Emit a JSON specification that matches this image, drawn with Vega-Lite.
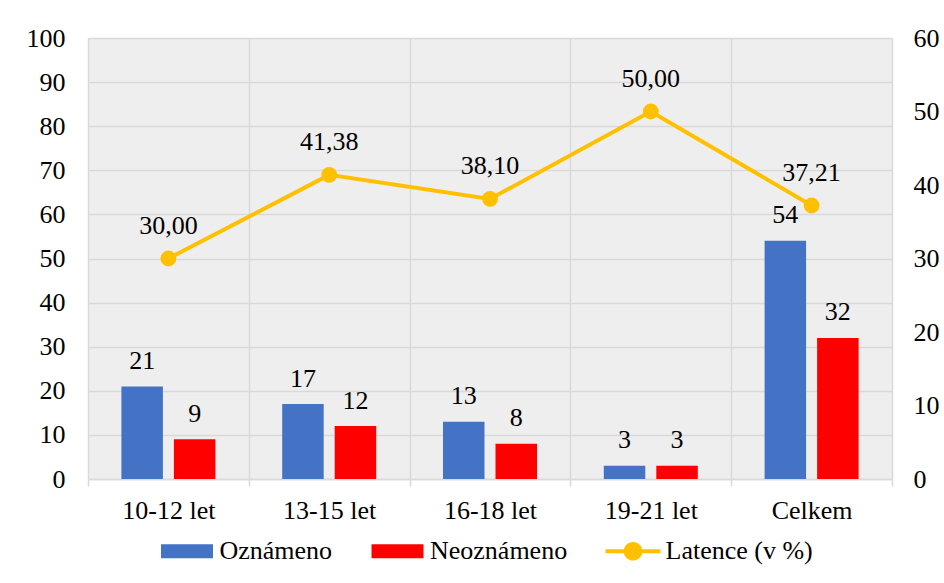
{
  "$schema": "https://vega.github.io/schema/vega-lite/v6.json",
  "width": 804,
  "height": 441,
  "autosize": {"type": "none"},
  "padding": {"left": 88, "top": 38, "right": 52, "bottom": 104},
  "background": "white",
  "datasets": {
    "bars": [
      {"cat": "10-12 let", "series": "Oznámeno", "value": 21},
      {"cat": "10-12 let", "series": "Neoznámeno", "value": 9},
      {"cat": "13-15 let", "series": "Oznámeno", "value": 17},
      {"cat": "13-15 let", "series": "Neoznámeno", "value": 12},
      {"cat": "16-18 let", "series": "Oznámeno", "value": 13},
      {"cat": "16-18 let", "series": "Neoznámeno", "value": 8},
      {"cat": "19-21 let", "series": "Oznámeno", "value": 3},
      {"cat": "19-21 let", "series": "Neoznámeno", "value": 3},
      {"cat": "Celkem", "series": "Oznámeno", "value": 54},
      {"cat": "Celkem", "series": "Neoznámeno", "value": 32}
    ],
    "lat": [
      {"cat": "10-12 let", "latence": 30.00},
      {"cat": "13-15 let", "latence": 41.38},
      {"cat": "16-18 let", "latence": 38.10},
      {"cat": "19-21 let", "latence": 50.00},
      {"cat": "Celkem", "latence": 37.21}
    ]
  },
  "encoding": {
    "x": {
      "field": "cat",
      "type": "nominal",
      "sort": ["10-12 let", "13-15 let", "16-18 let", "19-21 let", "Celkem"],
      "scale": {"paddingInner": 0, "paddingOuter": 0},
      "axis": {
        "title": null,
        "labelAngle": 0,
        "tickBand": "extent",
        "grid": true,
        "gridColor": "#d9d9d9",
        "gridWidth": 1.5,
        "domainColor": "#d9d9d9",
        "domainWidth": 1.5,
        "tickColor": "#d9d9d9",
        "tickWidth": 1.5,
        "tickSize": 7,
        "labelPadding": 11.5
      }
    }
  },
  "layer": [
    {
      "data": {"name": "bars"},
      "encoding": {
        "xOffset": {
          "field": "series",
          "type": "nominal",
          "sort": ["Oznámeno", "Neoznámeno"],
          "scale": {"paddingInner": 0.21, "paddingOuter": 0.636}
        },
        "y": {
          "field": "value",
          "type": "quantitative",
          "scale": {"domain": [0, 100], "nice": false},
          "axis": {
            "orient": "left",
            "title": null,
            "values": [0, 10, 20, 30, 40, 50, 60, 70, 80, 90, 100],
            "grid": true,
            "gridColor": "#d9d9d9",
            "gridWidth": 1.5,
            "domain": false,
            "ticks": false,
            "labelPadding": 23
          }
        }
      },
      "layer": [
        {
          "mark": {"type": "bar"},
          "encoding": {
            "color": {
              "field": "series",
              "type": "nominal",
              "scale": {
                "domain": ["Oznámeno", "Neoznámeno", "Latence (v %)"],
                "range": ["#4472C4", "#FF0000", "#FFC000"]
              },
              "legend": {
                "title": null,
                "orient": "none",
                "direction": "horizontal",
                "legendX": 71.5,
                "legendY": 485.5,
                "padding": 0,
                "symbolSize": 3025,
                "symbolStrokeWidth": 0,
                "labelOffset": 5,
                "columnPadding": 37.5,
                "labelLimit": 300,
                "encode": {
                  "symbols": {
                    "update": {
                      "shape": {"signal": "datum.value === 'Latence (v %)' ? 'M-1,-0.073L-0.33,-0.073L-0.33,0.073L-1,0.073ZM0.33,-0.073L1,-0.073L1,0.073L0.33,0.073ZM0.34,0A0.34,0.34,0,1,1,-0.34,0A0.34,0.34,0,1,1,0.34,0Z' : 'M-0.945,-0.255L0.945,-0.255L0.945,0.255L-0.945,0.255Z'"},
                      "fill": {"signal": "datum.value === 'Oznámeno' ? '#4472C4' : datum.value === 'Neoznámeno' ? '#FF0000' : '#FFC000'"},
                      "size": {"value": 3025},
                      "strokeWidth": {"value": 0},
                      "opacity": {"value": 1},
                      "fillOpacity": {"value": 1}
                    }
                  }
                }
              }
            }
          }
        },
        {
          "mark": {"type": "text", "baseline": "alphabetic", "dy": -17.5, "color": "#000000"},
          "encoding": {
            "text": {"field": "value", "type": "quantitative"}
          }
        }
      ]
    },
    {
      "data": {"name": "lat"},
      "encoding": {
        "y": {
          "field": "latence",
          "type": "quantitative",
          "scale": {"domain": [0, 60], "nice": false},
          "axis": {
            "orient": "right",
            "title": null,
            "values": [0, 10, 20, 30, 40, 50, 60],
            "grid": false,
            "domain": false,
            "ticks": false,
            "labelPadding": 21
          }
        }
      },
      "layer": [
        {
          "mark": {"type": "line", "strokeWidth": 4},
          "encoding": {"color": {"datum": "Latence (v %)"}}
        },
        {
          "mark": {"type": "circle", "size": 250, "opacity": 1},
          "encoding": {"color": {"datum": "Latence (v %)"}}
        },
        {
          "mark": {"type": "text", "baseline": "alphabetic", "dy": -24.5, "color": "#000000"},
          "encoding": {
            "text": {"field": "latence", "type": "quantitative", "format": ".2f"}
          }
        }
      ]
    }
  ],
  "resolve": {"scale": {"y": "independent"}},
  "config": {
    "locale": {
      "number": {"decimal": ",", "thousands": " ", "grouping": [3], "currency": ["", " Kč"]}
    },
    "view": {"stroke": null, "fill": "#eeeeee"},
    "font": "Liberation Serif, Times New Roman, Times, serif",
    "axis": {
      "labelFont": "Liberation Serif, Times New Roman, Times, serif",
      "labelFontSize": 26,
      "labelColor": "#000000"
    },
    "legend": {
      "labelFont": "Liberation Serif, Times New Roman, Times, serif",
      "labelFontSize": 26,
      "labelColor": "#000000"
    },
    "text": {"font": "Liberation Serif, Times New Roman, Times, serif", "fontSize": 26}
  }
}
